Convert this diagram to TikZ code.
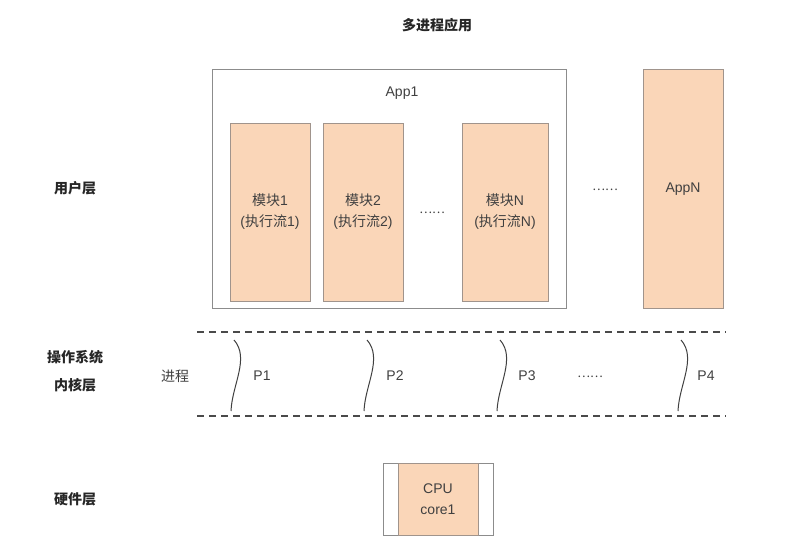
\documentclass[tikz,border=0pt]{standalone}
\usepackage{fontspec}
\setmainfont{Liberation Sans}
\newfontfamily\cjk{Noto Sans CJK SC}
\begin{document}
\begin{tikzpicture}[x=1pt,y=-1pt,
  every node/.style={inner sep=0pt, outer sep=0pt, text=txt, font=\fontsize{14}{17}\selectfont},
  framebox/.style={draw=framegray, line width=1pt, fill=white},
  orangebox/.style={draw=orangeedge, line width=1pt, fill=peach},
  heading/.style={font=\cjk\bfseries\fontsize{14}{18}\selectfont, text=black!85},
  sep/.style={draw=dashgray, line width=1.3pt, dash pattern=on 7pt off 5pt},
  wave/.style={draw=black!75, line width=1pt},
]
\definecolor{peach}{HTML}{FAD6B8}
\definecolor{orangeedge}{HTML}{A0948C}
\definecolor{framegray}{HTML}{8C8C8C}
\definecolor{dashgray}{HTML}{4A4A4A}
\definecolor{txt}{HTML}{404040}

\useasboundingbox[fill=white] (0,0) rectangle (794,554);

% title
\node[heading] (title) at (437,25) {多进程应用};

% layer labels
\node[heading] (user) at (75,188) {用户层};
\node[heading, align=center, font=\cjk\bfseries\fontsize{14}{28}\selectfont] (kernel) at (75,371) {操作系统\\内核层};
\node[heading] (hw) at (75,499) {硬件层};

% user space: App1 with its modules
\node[framebox, anchor=north west, minimum width=354pt, minimum height=239pt] (app1) at (212,69) {};
\node (app1label) at (402,93) {App1};
\node[orangebox, anchor=north west, minimum width=80pt, minimum height=178pt,
      align=center, font=\fontsize{14}{21}\selectfont] (m1) at (230,123) {{\cjk 模块}1\\({\cjk 执行流}1)};
\node[orangebox, anchor=north west, minimum width=80pt, minimum height=178pt,
      align=center, font=\fontsize{14}{21}\selectfont] (m2) at (323,123) {{\cjk 模块}2\\({\cjk 执行流}2)};
\node[orangebox, anchor=north west, minimum width=86pt, minimum height=178pt,
      align=center, font=\fontsize{14}{21}\selectfont] (mn) at (462,123) {{\cjk 模块}N\\({\cjk 执行流}N)};
\node[font=\cjk\fontsize{12}{14}\selectfont] (mdots) at (432,213) {……};
\node[font=\cjk\fontsize{12}{14}\selectfont] (adots) at (605,190) {……};

% AppN
\node[orangebox, anchor=north west, minimum width=80pt, minimum height=239pt] (appn) at (643,69) {};
\node (appnlabel) at (683,189) {AppN};

% kernel layer separators
\coordinate (dtl) at (197,332);
\coordinate (dtr) at (726,332);
\coordinate (dbl) at (197,416);
\coordinate (dbr) at (726,416);
\draw[sep] (dtl) -- (dtr);
\draw[sep] (dbl) -- (dbr);

\node[font=\cjk\fontsize{14}{17}\selectfont] (proc) at (175,376) {进程};

% processes
\foreach \x/\lx/\name in {234/262/P1, 367/395/P2, 500/527/P3, 681/706/P4}{
  \draw[wave] (\x,340) .. controls (\x+16,358) and (\x-2,385) .. (\x-3,411);
  \node (\name) at (\lx,376) {\name};
}
\node[font=\cjk\fontsize{12}{14}\selectfont] (pdots) at (590,377) {……};

% hardware: CPU core
\node[framebox, anchor=north west, minimum width=110pt, minimum height=72pt] (cpu) at (383,463) {};
\node[orangebox, anchor=north west, minimum width=80pt, minimum height=72pt,
      align=center, font=\fontsize{14}{21}\selectfont] (core) at (398,463) {CPU\\core1};
\end{tikzpicture}
\end{document}
